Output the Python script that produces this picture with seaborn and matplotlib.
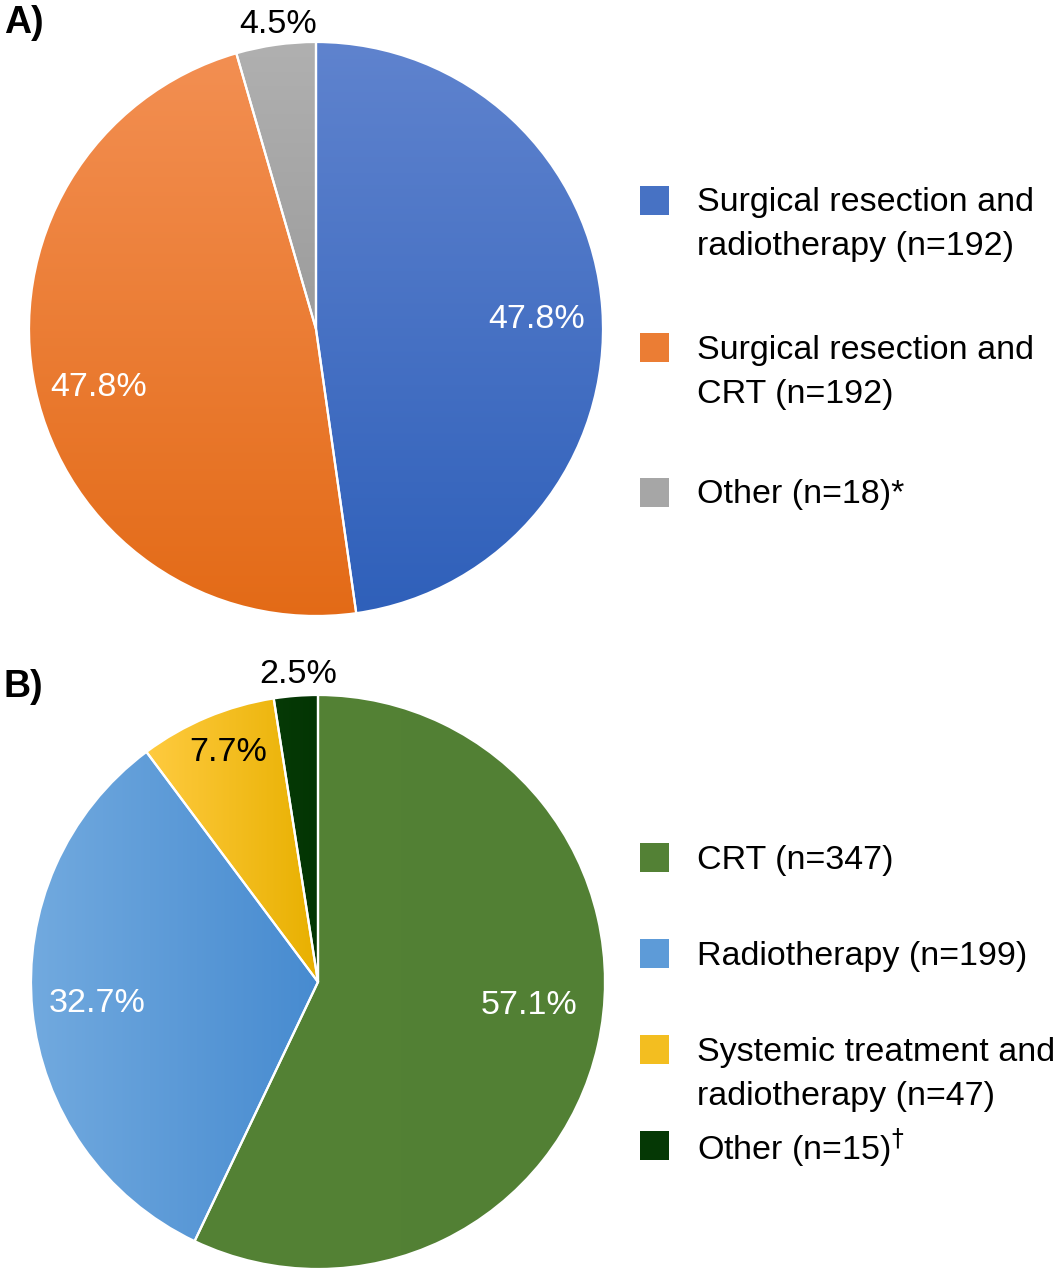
import numpy as np
import matplotlib
matplotlib.use('Agg')
import matplotlib.pyplot as plt
import seaborn as sns

# Panel A
a_labels = ['Surgical resection and\nradiotherapy (n=192)',
            'Surgical resection and\nCRT (n=192)',
            'Other (n=18)*']
a_counts = [192, 192, 18]
a_pcts = ['47.8%', '47.8%', '4.5%']

# Panel B
b_labels = ['CRT (n=347)',
            'Radiotherapy (n=199)',
            'Systemic treatment and\nradiotherapy (n=47)',
            'Other (n=15)$^{\\dagger}$']
b_counts = [347, 199, 47, 15]
b_pcts = ['57.1%', '32.7%', '7.7%', '2.5%']

# gradient colours (light, dark, direction in degrees)
a_grad = [('#5f83ce', '#2f60ba', -90), ('#f38f52', '#e36a16', -90), ('#b0b0b0', '#9c9c9c', -90)]
b_grad = [('#548235', '#528034', 0), ('#72aadf', '#478bd0', 0), ('#ffcb40', '#e8b000', 0), ('#063a06', '#033503', 0)]

a_text = ['white', 'white', 'black']
b_text = ['white', 'white', 'black', 'black']
a_lab_r = [0.77, 0.785, 1.068]
b_lab_r = [0.74, 0.775, 0.86, 1.075]
b_lab_shift = [6.5, 0, -1.5, -0.7]
a_lab_shift = [-1.5, 3, -1, 0]

sns.set_theme(style='white')
plt.rcParams['font.family'] = ['Liberation Sans', 'DejaVu Sans']
plt.rcParams['text.color'] = 'black'

W, H = 1063, 1272
fig = plt.figure(figsize=(W / 100, H / 100), dpi=100)


def px_axes(cx, cy, r):
    return fig.add_axes([(cx - r) / W, 1 - (cy + r) / H, 2 * r / W, 2 * r / H])


def gradient_fill(ax, wedge, light, dark, angle):
    n = 300
    xs = np.linspace(-1, 1, n)
    X, Y = np.meshgrid(xs, xs[::-1])
    t = np.deg2rad(angle)
    proj = X * np.cos(t) + Y * np.sin(t)
    # gradient spans the wedge's own extent
    v = wedge.get_path().vertices
    pv = v[:, 0] * np.cos(t) + v[:, 1] * np.sin(t)
    lo, hi = pv.min(), pv.max()
    f = np.clip((proj - lo) / (hi - lo), 0, 1)
    c1 = np.array(matplotlib.colors.to_rgb(light))
    c2 = np.array(matplotlib.colors.to_rgb(dark))
    img = c1 + (c2 - c1) * f[..., None]
    im = ax.imshow(img, extent=(-1, 1, -1, 1), zorder=1, interpolation='bilinear')
    im.set_clip_path(wedge)
    wedge.set_facecolor('none')
    wedge.set_zorder(2)


def draw_pie(ax, counts, grads, pcts, tcolors, lab_r, lab_shift):
    wedges, _ = ax.pie(counts, startangle=90, counterclock=False, radius=1,
                       wedgeprops=dict(edgecolor='white', linewidth=1.6))
    for w, (c1, c2, ang), p, tc, r, sh in zip(wedges, grads, pcts, tcolors, lab_r, lab_shift):
        gradient_fill(ax, w, c1, c2, ang)
        mid = np.deg2rad((w.theta1 + w.theta2) / 2 + sh)
        ax.text(r * np.cos(mid), r * np.sin(mid), p, color=tc, fontsize=24.5,
                ha='center', va='center', zorder=3)
    ax.set_xlim(-1, 1)
    ax.set_ylim(-1, 1)
    ax.set_aspect('equal')
    ax.axis('off')
    return wedges


def mix(c1, c2, f=0.5):
    a = np.array(matplotlib.colors.to_rgb(c1))
    b = np.array(matplotlib.colors.to_rgb(c2))
    return tuple(a + (b - a) * f)


def draw_legend(labels, grads, square_y, line_gap=44):
    for lab, (c1, c2, _), y in zip(labels, grads, square_y):
        sq = plt.Rectangle((640 / W, 1 - (y + 14.5) / H), 29 / W, 29 / H,
                           transform=fig.transFigure, facecolor=mix(c1, c2),
                           edgecolor='none')
        fig.patches.append(sq)
        for i, line in enumerate(lab.split('\n')):
            fig.text(697 / W, 1 - (y + 3 + i * line_gap) / H, line, fontsize=24.5,
                     ha='left', va='center', color='black')


ax_a = px_axes(316, 329, 287)
draw_pie(ax_a, a_counts, a_grad, a_pcts, a_text, a_lab_r, a_lab_shift)
ax_b = px_axes(318, 982, 287)
draw_pie(ax_b, b_counts, b_grad, b_pcts, b_text, b_lab_r, b_lab_shift)

draw_legend(a_labels, a_grad, [200, 347, 492])
draw_legend(b_labels, b_grad, [857, 953, 1049, 1145])

fig.text(4 / W, 1 - 23 / H, 'A)', fontsize=27, fontweight='bold', va='center', ha='left')
fig.text(4 / W, 1 - 687 / H, 'B)', fontsize=27, fontweight='bold', va='center', ha='left')

fig.savefig('out.png', dpi=100, facecolor='white')
